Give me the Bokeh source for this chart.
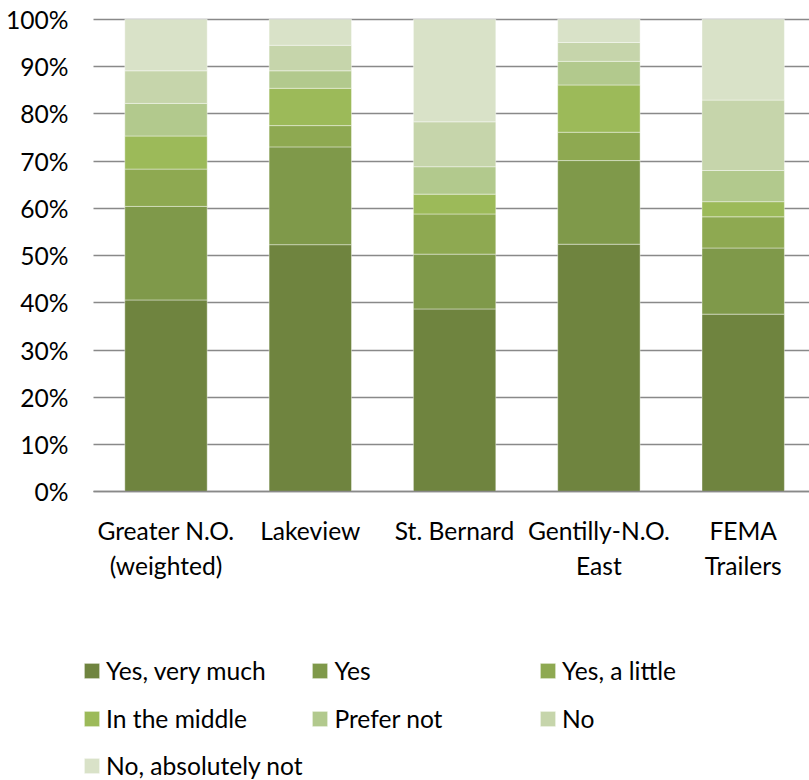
from bokeh.plotting import figure
from bokeh.models import Range1d, FixedTicker, PrintfTickFormatter, Legend, LegendItem
from bokeh.embed import file_html
from bokeh.resources import INLINE

categories = ["Greater N.O.\n(weighted)", "Lakeview", "St. Bernard", "Gentilly-N.O.\nEast", "FEMA\nTrailers"]
series_names = ["Yes, very much", "Yes", "Yes, a little", "In the middle", "Prefer not", "No", "No, absolutely not"]
yes_very_much = [40.6, 52.3, 38.7, 52.4, 37.6]
yes = [19.8, 20.7, 11.6, 17.7, 14.0]
yes_a_little = [7.9, 4.5, 8.5, 6.0, 6.6]
in_the_middle = [7.0, 7.9, 4.2, 10.0, 3.2]
prefer_not = [6.9, 3.7, 5.8, 5.0, 6.6]
no = [6.9, 5.4, 9.5, 4.0, 14.9]
no_absolutely_not = [10.9, 5.5, 21.7, 4.9, 17.1]
y_ticks = [0, 10, 20, 30, 40, 50, 60, 70, 80, 90, 100]
colors = ["#6F843F", "#7F994A", "#8EA951", "#9CBA59", "#B2C98D", "#C6D5AB", "#D9E2C8"]

FONT = "Lato"
FS = "24.6px"
GRID = "#898989"

W, H = 809, 780
PX_X = 144.3          # pixels per category
PX_Y = 4.725          # pixels per percent
X0_PX, Y0_PX = 165.5, 491.3   # pixel position of first category / 0 %
x_start = -X0_PX / PX_X
x_end = x_start + W / PX_X
y_start = -(H - Y0_PX) / PX_Y
y_end = Y0_PX / PX_Y
area_left = x_start + 93 / PX_X   # left edge of the plotting area (gridlines start)

x = list(range(len(categories)))
keys = ["s0", "s1", "s2", "s3", "s4", "s5", "s6"]
data = dict(x=x)
for k, v in zip(keys, [yes_very_much, yes, yes_a_little, in_the_middle, prefer_not, no, no_absolutely_not]):
    data[k] = v

p = figure(width=W, height=H, output_backend="svg", toolbar_location=None,
           x_range=Range1d(x_start, x_end), y_range=Range1d(y_start, y_end),
           min_border_left=0, min_border_right=0, min_border_top=0, min_border_bottom=0)
p.outline_line_color = None
p.background_fill_color = "white"

p.xgrid.grid_line_color = None
p.ygrid.ticker = FixedTicker(ticks=y_ticks)
try:
    p.ygrid.cross_bounds = (area_left, x_end)
    p.ygrid.grid_line_color = GRID
    p.ygrid.grid_line_width = 1.5
except Exception:
    p.ygrid.grid_line_color = None
    p.segment(x0=[area_left] * len(y_ticks), x1=[x_end] * len(y_ticks), y0=y_ticks, y1=y_ticks,
              line_color=GRID, line_width=1.5)

renderers = p.vbar_stack(keys, x="x", width=0.571, source=data, fill_color=colors,
                         line_color="white", line_alpha=0.5, line_width=0.8)

p.yaxis.fixed_location = area_left
p.yaxis.bounds = (0, 100)
p.yaxis.ticker = FixedTicker(ticks=y_ticks)
p.yaxis.formatter = PrintfTickFormatter(format="%d%%")
p.yaxis.axis_line_color = None
p.yaxis.major_tick_line_color = None
p.yaxis.minor_tick_line_color = None
p.yaxis.major_tick_out = 0
p.yaxis.major_tick_in = 0
p.yaxis.major_label_standoff = 25
p.yaxis.major_label_text_font = FONT
p.yaxis.major_label_text_font_size = FS
p.yaxis.major_label_text_color = "#000000"

p.xaxis.fixed_location = 0
p.xaxis.bounds = (area_left, x_end)
p.xaxis.ticker = FixedTicker(ticks=x)
p.xaxis.major_label_overrides = {i: c for i, c in zip(x, categories)}
p.xaxis.axis_line_color = GRID
p.xaxis.axis_line_width = 1.5
p.xaxis.major_tick_line_color = None
p.xaxis.minor_tick_line_color = None
p.xaxis.major_tick_out = 0
p.xaxis.major_tick_in = 0
p.xaxis.major_label_standoff = 24
p.xaxis.major_label_text_font = FONT
p.xaxis.major_label_text_font_size = FS
p.xaxis.major_label_text_color = "#000000"

# legend: 3 columns x 3 rows, row-major, one legend box per entry
col_x = [82.1, 310.4, 538.1]
row_center = [670.5, 718.5, 765.0]
ITEM_H = 29.5
for i, (n, r) in enumerate(zip(series_names, renderers)):
    vy = H - (row_center[i // 3] - ITEM_H / 2) - ITEM_H
    lg = Legend(items=[LegendItem(label=n, renderers=[r])],
                location=(col_x[i % 3], vy),
                glyph_width=19, glyph_height=19, label_standoff=5,
                spacing=0, padding=0, margin=0,
                label_text_font=FONT, label_text_font_size=FS, label_text_color="#000000",
                border_line_color=None, background_fill_alpha=0)
    p.add_layout(lg, "center")

open("out.html", "w").write(file_html(p, INLINE))
